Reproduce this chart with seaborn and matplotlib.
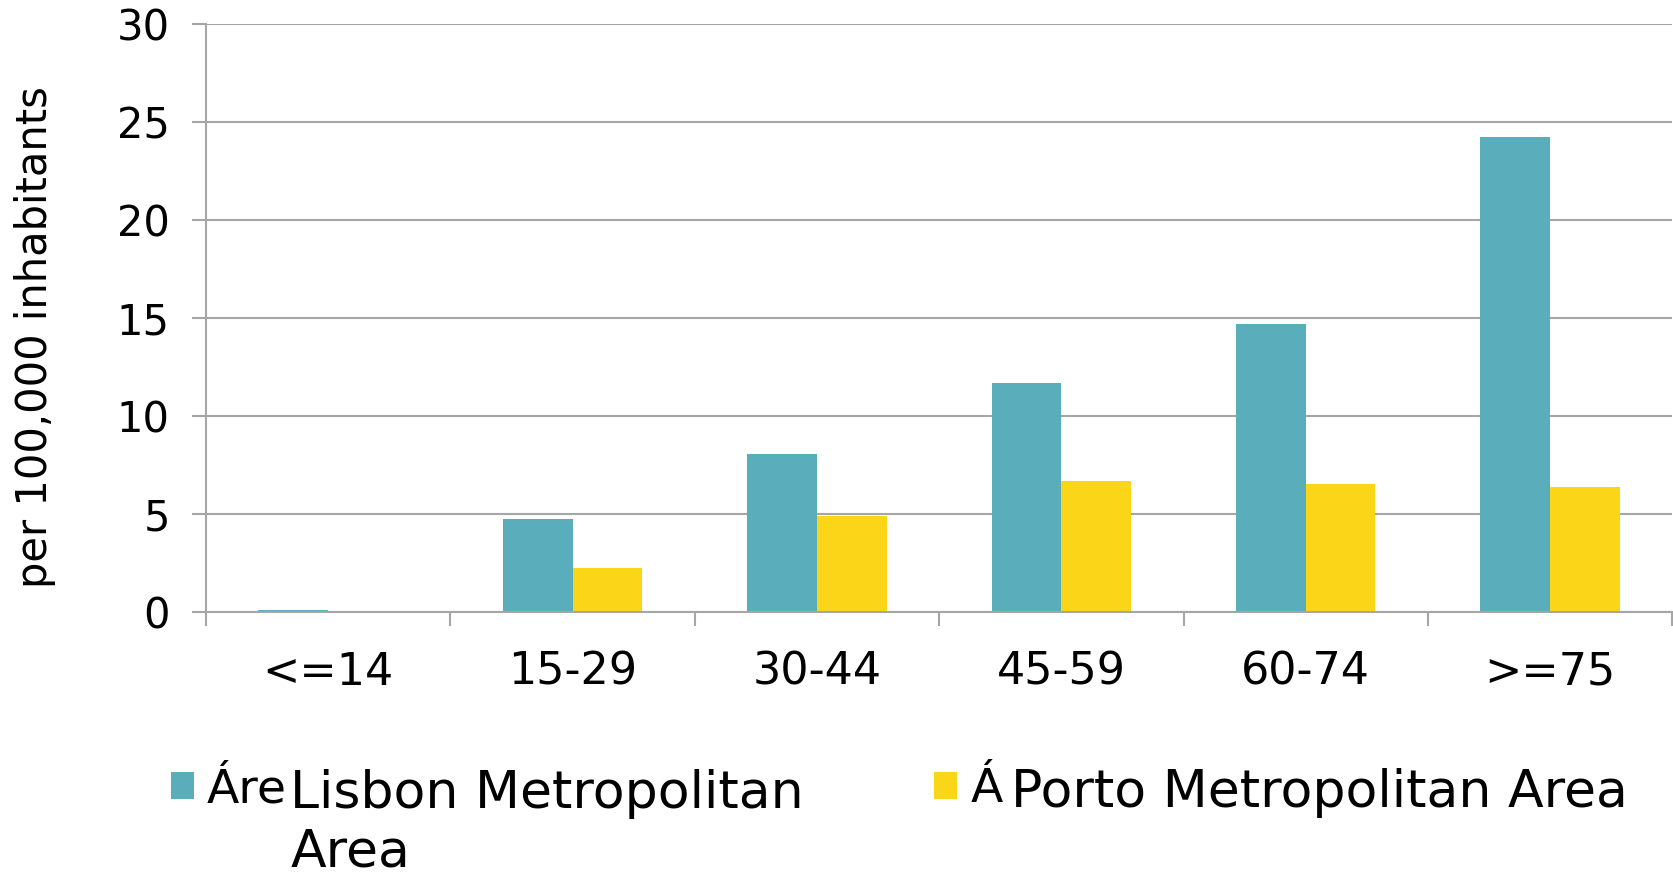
import matplotlib
matplotlib.use("Agg")
import matplotlib.pyplot as plt
import seaborn as sns
import pandas as pd

age_groups = ["<=14", "15-29", "30-44", "45-59", "60-74", ">=75"]
lisbon = [0.1, 4.75, 8.05, 11.65, 14.7, 24.2]
porto = [0.0, 2.25, 4.9, 6.65, 6.5, 6.35]
series_names = ["Áre", "Á"]
legend_overlay = ["Lisbon Metropolitan\nArea", "Porto Metropolitan Area"]
colors = ["#5AADBB", "#FBD518"]
y_ticks = [0, 5, 10, 15, 20, 25, 30]

df = pd.DataFrame({
    "age": age_groups * 2,
    "value": lisbon + porto,
    "area": [series_names[0]] * len(age_groups) + [series_names[1]] * len(age_groups),
})

sns.set_theme(style="white")
plt.rcParams["font.family"] = ["DejaVu Sans"]
plt.rcParams["text.color"] = "black"

fig = plt.figure(figsize=(16.74, 8.74), dpi=100)
ax = fig.add_axes([0.123, 0.30, 0.876, 0.673])

sns.barplot(data=df, x="age", y="value", hue="area", palette=colors,
            width=0.57, gap=0, saturation=1, linewidth=0, ax=ax, legend=True)

grid_color = "#A6A6A6"
ax.set_ylim(0, 30)
ax.set_xlim(-0.5, len(age_groups) - 0.5)
ax.set_yticks(y_ticks)
ax.yaxis.grid(True, color=grid_color, linewidth=1.5)
ax.set_axisbelow(True)
for side in ["top", "right"]:
    ax.spines[side].set_visible(False)
for side in ["left", "bottom"]:
    ax.spines[side].set_color(grid_color)
    ax.spines[side].set_linewidth(1.5)

ax.set_xticks([i - 0.5 for i in range(len(age_groups) + 1)], minor=True)
ax.tick_params(axis="x", which="minor", direction="out", length=10,
               width=1.5, color=grid_color, bottom=True)
ax.tick_params(axis="x", which="major", length=0, pad=28, labelsize=32,
               labelcolor="black")
ax.tick_params(axis="y", direction="out", length=10, width=1.5,
               color=grid_color, left=True, pad=16, labelsize=30,
               labelcolor="black")

ax.set_xlabel("")
ax.set_ylabel("per 100,000 inhabitants", fontsize=30, color="black")
ax.yaxis.set_label_coords(-0.102, 0.467)

leg = ax.legend(loc="upper left", bbox_to_anchor=(0.0765, 0.171),
                bbox_transform=fig.transFigure, ncol=2, frameon=False,
                fontsize=34, handlelength=0.5, handleheight=0.5,
                handletextpad=0.27, columnspacing=13.7)

fig.text(0.1735, 0.058, legend_overlay[0], fontsize=37.5, va="center",
         ha="left", linespacing=1.2)
fig.text(0.604, 0.093, legend_overlay[1], fontsize=37.5, va="center",
         ha="left")

fig.savefig("out.png", dpi=100)
